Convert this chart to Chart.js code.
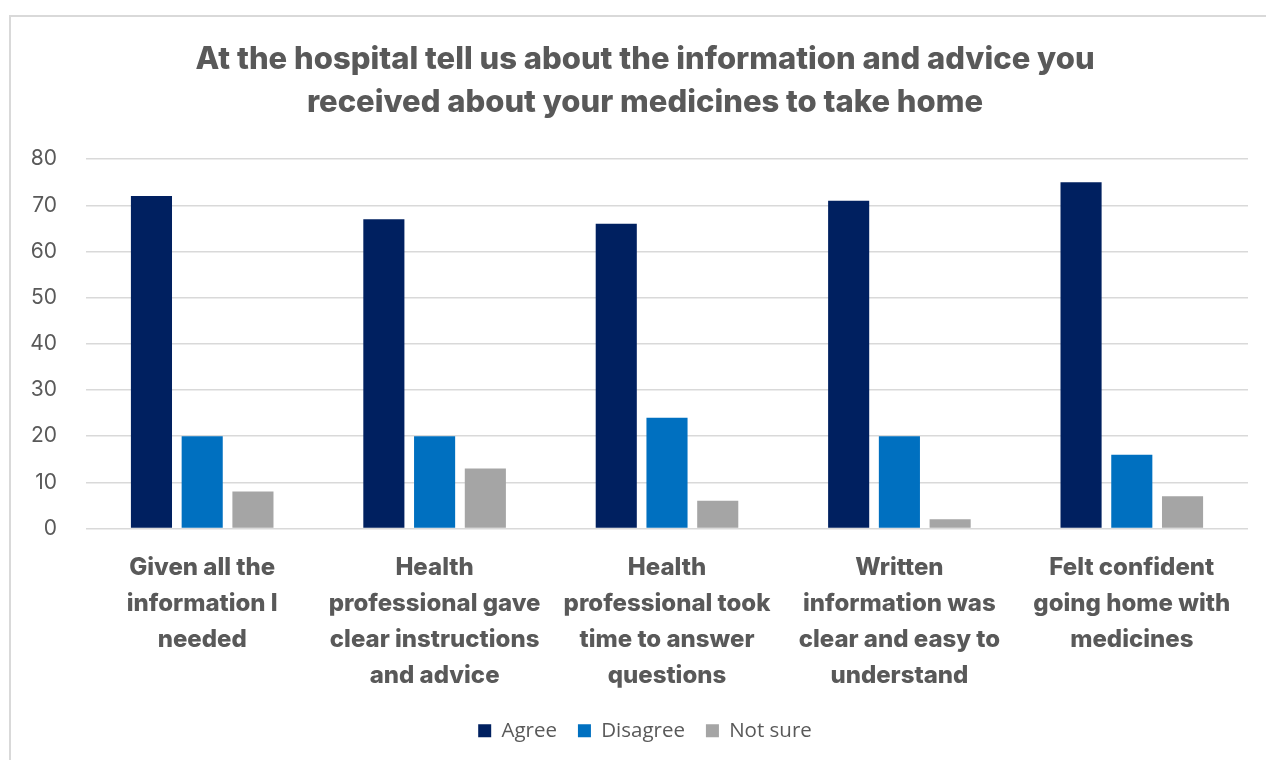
<!DOCTYPE html>
<html>
<head>
<meta charset="utf-8">
<script src="https://cdn.jsdelivr.net/npm/chart.js@4.4.0/dist/chart.umd.min.js"></script>
<style>
    html, body { margin: 0; padding: 0; background: #ffffff; }
    body { width: 1266px; height: 760px; overflow: hidden; position: relative; }
    #card {
        position: absolute;
        left: 9px;
        top: 15px;
        width: 1257px;
        height: 745px;
        border-left: 2px solid #d9d9d9;
        border-top: 2px solid #d9d9d9;
        background: #ffffff;
    }
    #chartContainer { position: absolute; left: 0; top: 0; width: 1255px; height: 743px; }
</style>
</head>
<body>
<div id="card">
    <div id="chartContainer"><canvas id="medChart"></canvas></div>
</div>
<script>
const chartTitle = [
    'At the hospital tell us about the information and advice you',
    'received about your medicines to take home'
];

// each category is split into the lines it is printed on
const categories = [
    ['Given all the', 'information I', 'needed'],
    ['Health', 'professional gave', 'clear instructions', 'and advice'],
    ['Health', 'professional took', 'time to answer', 'questions'],
    ['Written', 'information was', 'clear and easy to', 'understand'],
    ['Felt confident', 'going home with', 'medicines']
];

const agree = [72, 67, 66, 71, 75];
const disagree = [20, 20, 24, 20, 16];
const notSure = [8, 13, 6, 2, 7];

const yTicks = [0, 10, 20, 30, 40, 50, 60, 70, 80];

const textGrey = '#595959';
const gridGrey = '#d9d9d9';

// nudge title and legend right so they sit centred over the plot rather than the canvas
const headerShift = 15.5;
const shiftBlocks = {
    id: 'shiftBlocks',
    afterLayout(chart) {
        [chart.titleBlock, chart.legend].forEach(box => {
            if (box) {
                box.left += headerShift;
                box.right += headerShift;
            }
        });
    }
};

const ctx = document.getElementById('medChart').getContext('2d');
new Chart(ctx, {
    type: 'bar',
    data: {
        labels: categories,
        datasets: [
            { label: 'Agree', data: agree, backgroundColor: '#002060' },
            { label: 'Disagree', data: disagree, backgroundColor: '#0070C0' },
            { label: 'Not sure', data: notSure, backgroundColor: '#A5A5A5' }
        ]
    },
    plugins: [shiftBlocks],
    options: {
        responsive: true,
        maintainAspectRatio: false,
        animation: false,
        datasets: {
            bar: { barPercentage: 0.81, categoryPercentage: 0.655 }
        },
        layout: {
            padding: { left: 0, right: 18, top: 21, bottom: 9 }
        },
        plugins: {
            title: {
                display: true,
                text: chartTitle,
                color: textGrey,
                font: { family: 'Inter', size: 31, weight: '800', lineHeight: 1.39 },
                padding: { top: 0, bottom: 35 }
            },
            legend: {
                position: 'bottom',
                labels: {
                    color: textGrey,
                    font: { family: 'Open Sans', size: 20.5 },
                    boxWidth: 13,
                    boxHeight: 13,
                    padding: 21
                }
            },
            tooltip: { enabled: false }
        },
        scales: {
            x: {
                grid: { display: false },
                border: { display: false },
                afterFit: (scale) => { scale.height -= 7; },
                ticks: {
                    color: textGrey,
                    font: { family: 'Inter', size: 24, weight: '800', lineHeight: 1.5 },
                    padding: 13,
                    maxRotation: 0,
                    autoSkip: false
                }
            },
            y: {
                min: 0,
                max: 80,
                afterBuildTicks: (scale) => {
                    scale.ticks = yTicks.map(v => ({ value: v }));
                },
                afterFit: (scale) => { scale.width = 75; },
                grid: { color: gridGrey, lineWidth: 1.5, drawTicks: false },
                border: { display: false },
                ticks: {
                    color: textGrey,
                    font: { family: 'Inter', size: 21 },
                    padding: 29
                }
            }
        }
    }
});
</script>
</body>
</html>
